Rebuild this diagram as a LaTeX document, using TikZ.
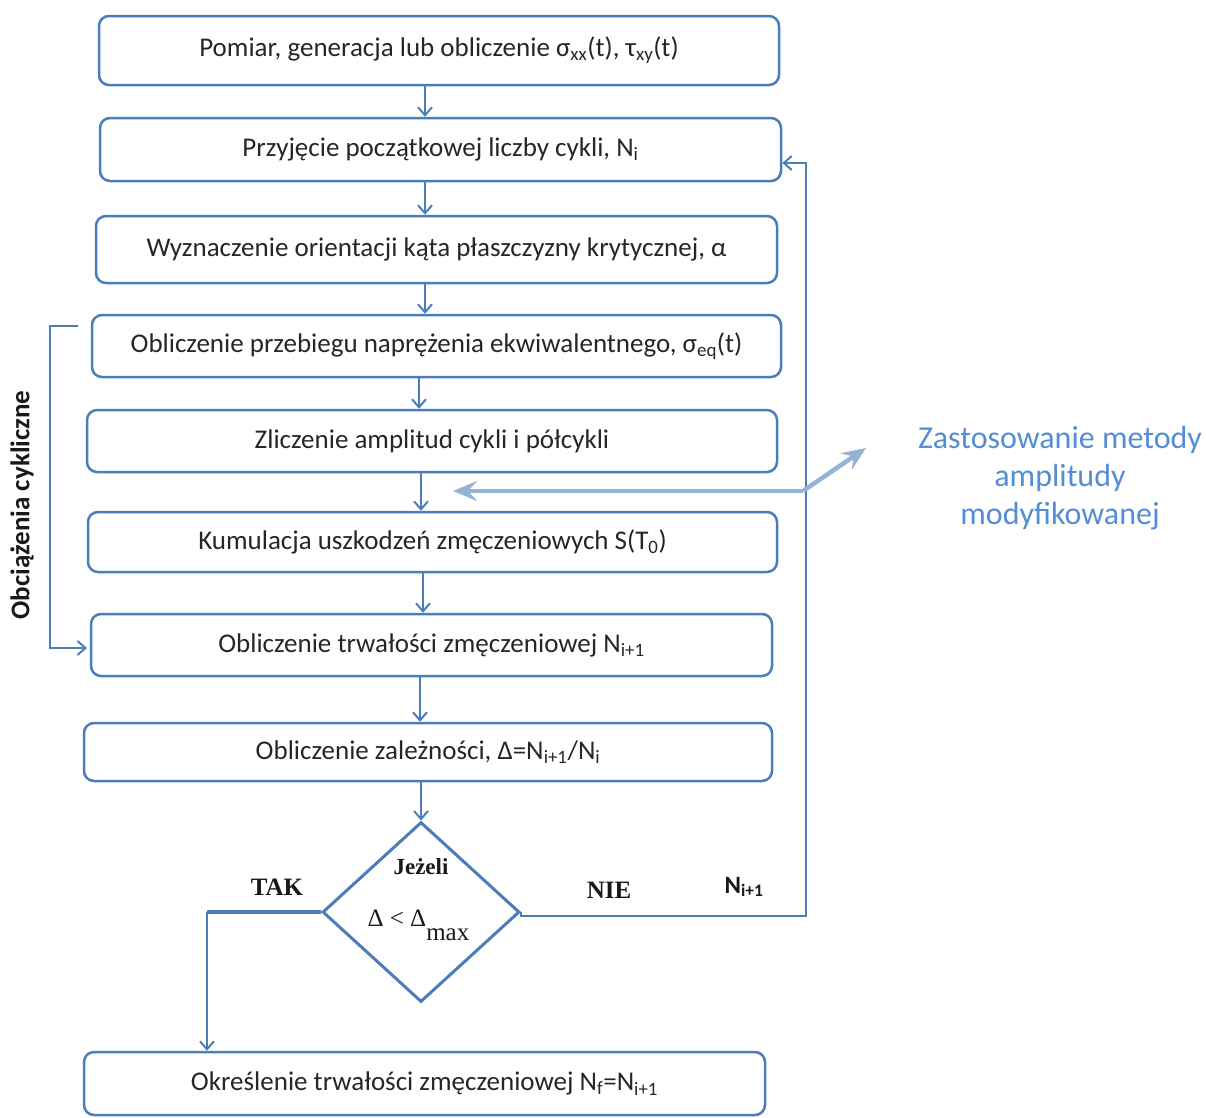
\documentclass[tikz,border=0pt]{standalone}
\usepackage{fontspec}
\setmainfont{Carlito}
\newfontfamily\serifb{Liberation Serif}
\usetikzlibrary{arrows.meta,shapes.geometric}
\definecolor{boxblue}{RGB}{74,126,187}
\definecolor{lightarr}{RGB}{149,179,215}
\definecolor{txtblue}{RGB}{84,141,212}
\tikzset{
  stepbox/.style={draw=boxblue, line width=2.5pt, rounded corners=10pt, inner sep=0pt,
    font=\fontsize{27}{31}\selectfont, text=black!85},
  arr/.style={draw=boxblue, line width=2pt, -{Straight Barb[length=8pt,width=14pt,line width=2pt]}},
  link/.style={draw=boxblue, line width=2.5pt},
  bigarr/.style={draw=lightarr, line width=4.5pt, -{Stealth[length=24pt,width=20pt,inset=9pt]}},
  serlab/.style={font=\serifb\bfseries\fontsize{25}{29}\selectfont, text=black!90},
}
\begin{document}
\begin{tikzpicture}[x=1pt,y=-1pt]
\useasboundingbox (0,0) rectangle (1206,1117);
\node[stepbox, minimum width=680pt, minimum height=69pt] (b1) at (439,50.5) {Pomiar, generacja lub obliczenie σ\textsubscript{xx}(t), τ\textsubscript{xy}(t)};
\node[stepbox, minimum width=681pt, minimum height=63pt] (b2) at (440.5,149.5) {Przyjęcie początkowej liczby cykli, N\textsubscript{i}};
\node[stepbox, minimum width=681pt, minimum height=67pt] (b3) at (436.5,249.5) {Wyznaczenie orientacji kąta płaszczyzny krytycznej, α};
\node[stepbox, minimum width=689pt, minimum height=62pt] (b4) at (436.5,346) {Obliczenie przebiegu naprężenia ekwiwalentnego, σ\textsubscript{eq}(t)};
\node[stepbox, minimum width=690pt, minimum height=62pt] (b5) at (432,441) {Zliczenie amplitud cykli i półcykli};
\node[stepbox, minimum width=689pt, minimum height=60pt] (b6) at (432.5,542) {Kumulacja uszkodzeń zmęczeniowych S(T\textsubscript{0})};
\node[stepbox, minimum width=681pt, minimum height=62pt] (b7) at (431.5,645) {Obliczenie trwałości zmęczeniowej N\textsubscript{i+1}};
\node[stepbox, minimum width=688pt, minimum height=58pt] (b8) at (428,752) {Obliczenie zależności, Δ=N\textsubscript{i+1}/N\textsubscript{i}};
\node[stepbox, minimum width=681pt, minimum height=63pt] (b10) at (424.5,1083.5) {Określenie trwałości zmęczeniowej N\textsubscript{f}=N\textsubscript{i+1}};
\node[diamond, draw=boxblue, line width=3pt, minimum width=197pt, minimum height=180pt, inner sep=0pt] (d) at (421,912) {};
\node[serlab, font=\serifb\bfseries\fontsize{23}{27}\selectfont] (jez) at (421,867) {Jeżeli};
\node[font=\serifb\fontsize{25}{29}\selectfont, text=black!90, anchor=base west] (cond) at (364,926) {Δ < Δ\raisebox{-14pt}{max}};
% vertical connectors
\coordinate (xa) at (425,0);
\coordinate (xb) at (419,0);
\coordinate (xc) at (421,0);
\coordinate (xd) at (423,0);
\coordinate (xe) at (420,0);
\draw[arr] (b1.south -| xa) -- (b2.north -| xa);
\draw[arr] (b2.south -| xa) -- (b3.north -| xa);
\draw[arr] (b3.south -| xa) -- (b4.north -| xa);
\draw[arr] (b4.south -| xb) -- (b5.north -| xb);
\draw[arr] (b5.south -| xc) -- (b6.north -| xc);
\draw[arr] (b6.south -| xd) -- (b7.north -| xd);
\draw[arr] (b7.south -| xe) -- (b8.north -| xe);
\draw[arr] (b8.south -| xc) -- (d.north);
% NIE loop
\coordinate (loopx) at (806,0);
\draw[arr] (d.east) -- ([yshift=-4pt]d.east) -- ([yshift=-4pt]d.east -| loopx) -- ([yshift=-13.5pt]b2.east -| loopx) -- ([yshift=-13.5pt]b2.east);
% TAK branch
\coordinate (takx) at (207,0);
\draw[link, line width=3.5pt] (d.west) -- (d.west -| takx);
\draw[arr] (d.west -| takx) -- (b10.north -| takx);
\node[serlab] (tak) at (277,887) {TAK};
\node[serlab] (nie) at (609,890) {NIE};
\node[font=\bfseries\fontsize{25}{29}\selectfont, text=black!90] (ni1) at (744,887) {N\textsubscript{i+1}};
% left bracket
\coordinate (brs) at (78,326);
\coordinate (brx) at (50,0);
\coordinate (bre) at (87,648);
\draw[arr, line width=2.5pt] (brs) -- (brs -| brx) -- (bre -| brx) -- (bre);
\node[rotate=90, font=\bfseries\fontsize{27}{31}\selectfont, text=black!90] (obc) at (22,505) {Obciążenia cykliczne};
% modified amplitude method
\coordinate (j) at (803,491);
\coordinate (la) at (453,491);
\coordinate (ua) at (866,448);
\draw[bigarr] (j) -- (la);
\draw[bigarr] (j) -- (ua);
\node[align=center, text=txtblue, font=\fontsize{32}{38}\selectfont] (zm) at (1060,478) {Zastosowanie metody\\amplitudy\\modyfikowanej};
\end{tikzpicture}
\end{document}
